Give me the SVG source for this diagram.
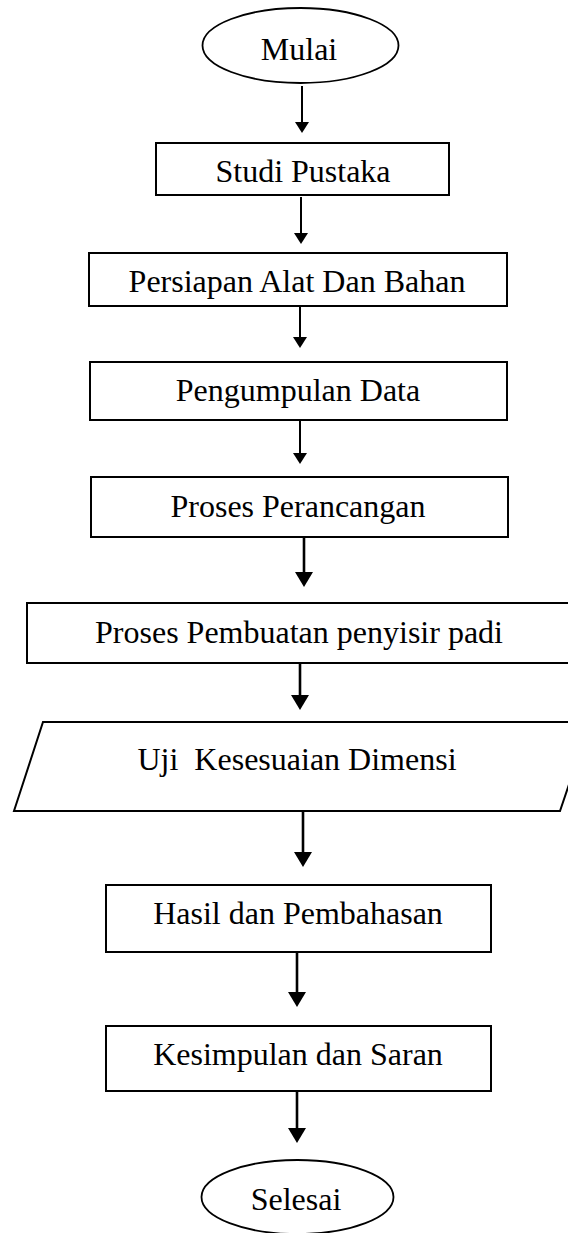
<svg xmlns="http://www.w3.org/2000/svg" width="568" height="1233" viewBox="0 0 568 1233">
<style>
  .shape { fill: #ffffff; stroke: #000000; stroke-width: 2; }
  .oval { fill: #ffffff; stroke: #000000; stroke-width: 1.8; }
  .lbl { font-family: "Liberation Serif", "Times New Roman", serif; font-size: 32px; fill: #000000; text-anchor: middle; white-space: pre; }
  .conn { stroke: #000000; fill: none; }
  .thin { stroke-width: 2; marker-end: url(#arrS); }
  .thick { stroke-width: 2.6; marker-end: url(#arrL); }
</style>
<defs>
  <marker id="arrS" markerUnits="userSpaceOnUse" markerWidth="12" markerHeight="14" refX="0" refY="7" orient="auto" viewBox="0 0 12 14">
    <path d="M0,0 L11,7 L0,14 Z" fill="#000000"/>
  </marker>
  <marker id="arrL" markerUnits="userSpaceOnUse" markerWidth="16" markerHeight="18" refX="0" refY="9" orient="auto" viewBox="0 0 16 18">
    <path d="M0,0 L15,9 L0,18 Z" fill="#000000"/>
  </marker>
</defs>
<rect x="0" y="0" width="568" height="1233" fill="#ffffff"/>

<g id="connectors">
  <line class="conn thin" x1="302" y1="86" x2="302" y2="122"/>
  <line class="conn thin" x1="301" y1="197" x2="301" y2="233"/>
  <line class="conn thin" x1="300" y1="303" x2="300" y2="337"/>
  <line class="conn thin" x1="300" y1="420" x2="300" y2="453"/>
  <line class="conn thick" x1="304" y1="537" x2="304" y2="572"/>
  <line class="conn thick" x1="300" y1="663" x2="300" y2="695"/>
  <line class="conn thick" x1="303" y1="811" x2="303" y2="852"/>
  <line class="conn thick" x1="297" y1="952" x2="297" y2="992"/>
  <line class="conn thick" x1="297" y1="1089" x2="297" y2="1128"/>
</g>

<g id="mulai">
  <ellipse class="oval" cx="300.5" cy="45.5" rx="98" ry="37.5"/>
  <text class="lbl" x="299" y="60">Mulai</text>
</g>
<g id="studi-pustaka">
  <rect class="shape" x="156" y="143" width="293" height="52"/>
  <text class="lbl" x="303" y="182">Studi Pustaka</text>
</g>
<g id="persiapan">
  <rect class="shape" x="89" y="253" width="418" height="53"/>
  <text class="lbl" x="297" y="292">Persiapan Alat Dan Bahan</text>
</g>
<g id="pengumpulan">
  <rect class="shape" x="90" y="362" width="417" height="58"/>
  <text class="lbl" x="298" y="401">Pengumpulan Data</text>
</g>
<g id="perancangan">
  <rect class="shape" x="91" y="477" width="417" height="60"/>
  <text class="lbl" x="298" y="517">Proses Perancangan</text>
</g>
<g id="pembuatan">
  <rect class="shape" x="27" y="603" width="560" height="60"/>
  <text class="lbl" x="299" y="643">Proses Pembuatan penyisir padi</text>
</g>
<g id="uji">
  <polygon class="shape" points="43,722 590,722 560,811 14,811"/>
  <text class="lbl" x="297" y="770" xml:space="preserve">Uji  Kesesuaian Dimensi</text>
</g>
<g id="hasil">
  <rect class="shape" x="106" y="885" width="385" height="67"/>
  <text class="lbl" x="298" y="924">Hasil dan Pembahasan</text>
</g>
<g id="kesimpulan">
  <rect class="shape" x="106" y="1026" width="385" height="65"/>
  <text class="lbl" x="298" y="1065">Kesimpulan dan Saran</text>
</g>
<g id="selesai">
  <ellipse class="oval" cx="297.5" cy="1197" rx="96" ry="37"/>
  <text class="lbl" x="296" y="1210">Selesai</text>
</g>
</svg>
